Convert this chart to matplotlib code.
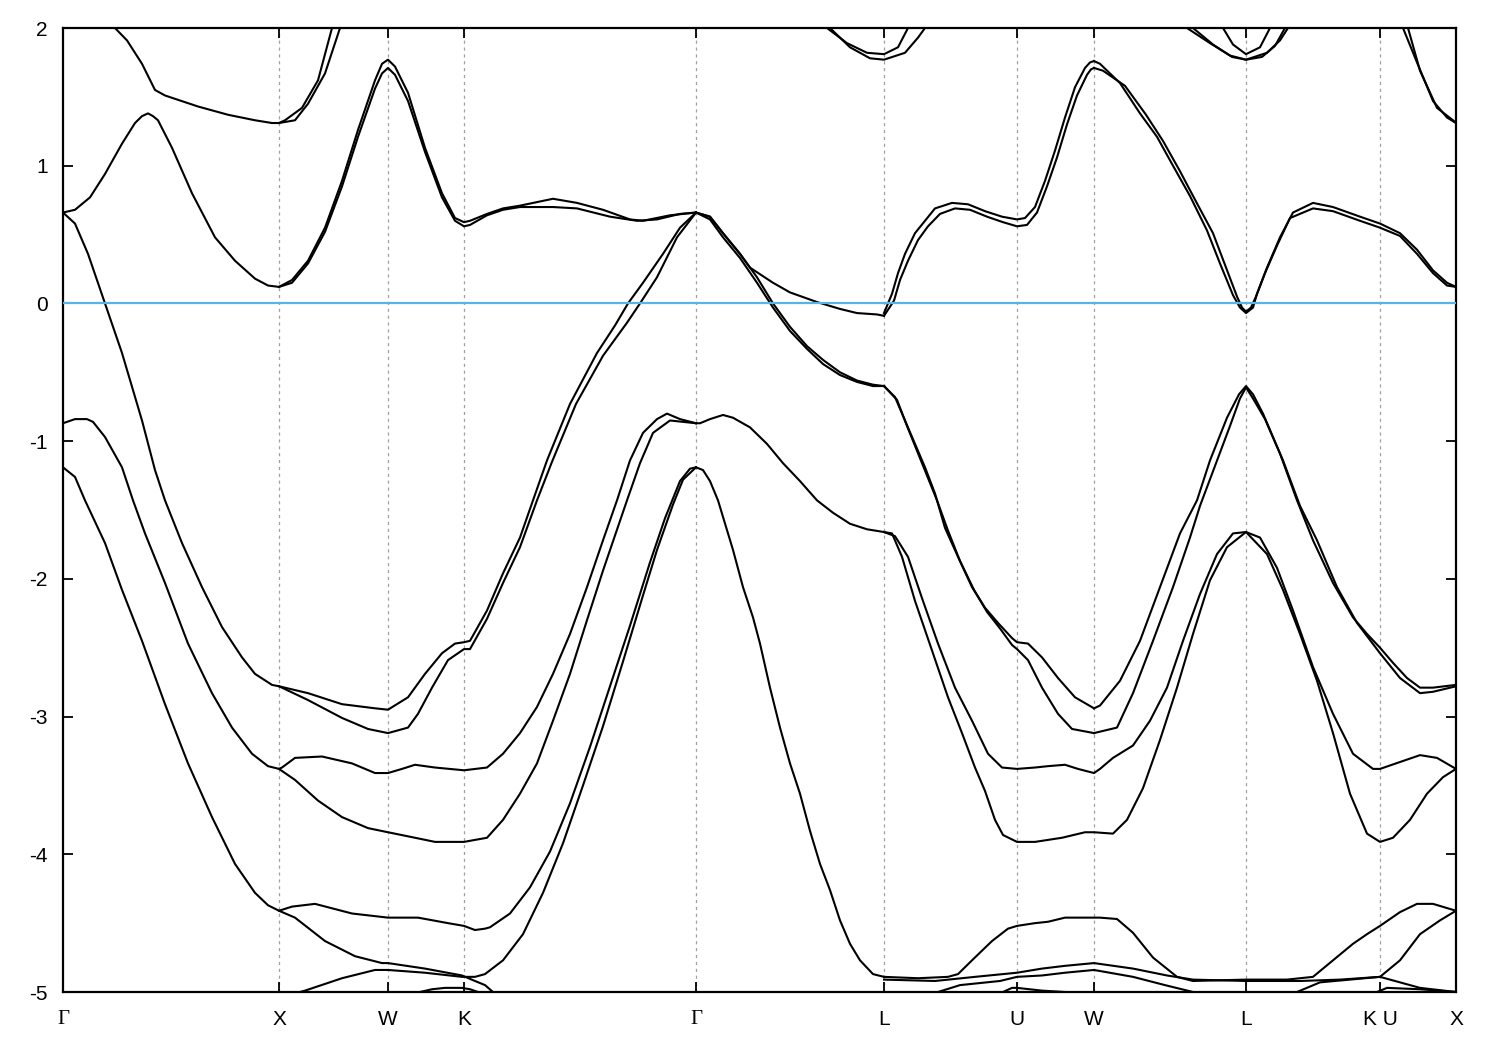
import matplotlib
matplotlib.use('Agg')
import matplotlib.pyplot as plt

plt.rcParams['font.family'] = ['Liberation Sans', 'DejaVu Sans']
plt.rcParams['axes.unicode_minus'] = False

###############################################################################
## High symmetry points along the k-path                                     ##
###############################################################################
sym_k = [0.00, 2.16, 3.25, 4.01, 6.33, 8.21, 9.54, 10.31, 11.83, 13.17, 13.93]
sym_labels = ['Γ', 'X', 'W', 'K', 'Γ', 'L', 'U', 'W', 'L', 'K U', 'X']
e_ticks = [2, 1, 0, -1, -2, -3, -4, -5]

###############################################################################
## Bands (k, E in eV)                                   ##
###############################################################################
# conduction bands near the top edge
top_gx_k = [0.49, 0.52, 0.64, 0.79, 0.92, 1.02, 1.35, 1.65, 1.92, 2.09, 2.16, 2.22, 2.39, 2.55, 2.69, 2.72]
top_gx_e = [2.05, 2.00, 1.91, 1.74, 1.55, 1.51, 1.43, 1.37, 1.33, 1.31, 1.31, 1.33, 1.42, 1.62, 2.00, 2.08]
top_xw_k = [2.16, 2.32, 2.45, 2.62, 2.77, 2.80]
top_xw_e = [1.31, 1.33, 1.45, 1.67, 2.00, 2.08]
top_l1_k = [7.64, 7.84, 8.04, 8.21, 8.35, 8.45]
top_l1_e = [2.00, 1.89, 1.82, 1.81, 1.86, 2.00]
top_l2_k = [7.67, 7.87, 8.07, 8.21, 8.42, 8.55, 8.62]
top_l2_e = [2.00, 1.86, 1.78, 1.77, 1.82, 1.93, 2.00]
top_l3_k = [11.24, 11.47, 11.67, 11.83, 12.04, 12.17, 12.25]
top_l3_e = [2.00, 1.89, 1.80, 1.77, 1.82, 1.91, 2.00]
top_l4_k = [11.30, 11.50, 11.69, 11.83, 11.99, 12.12, 12.22]
top_l4_e = [2.00, 1.88, 1.79, 1.77, 1.79, 1.87, 2.00]
top_l5_k = [11.60, 11.70, 11.83, 11.97, 12.07]
top_l5_e = [2.00, 1.88, 1.81, 1.86, 2.00]
top_x1_k = [13.40, 13.54, 13.70, 13.84, 13.93]
top_x1_e = [2.00, 1.75, 1.47, 1.35, 1.31]
top_x2_k = [13.45, 13.57, 13.74, 13.90, 13.93]
top_x2_e = [2.00, 1.69, 1.42, 1.33, 1.31]

# band through 0.66 at Gamma, peak at W
cb1_k = [0.00, 0.12, 0.27, 0.42, 0.59, 0.72, 0.79, 0.85, 0.90, 0.95, 1.09, 1.29, 1.52, 1.72, 1.92, 2.05, 2.16,
         2.29, 2.45, 2.62, 2.79, 2.95, 3.12, 3.19, 3.25, 3.32, 3.45, 3.62, 3.79, 3.92, 4.01,
         4.07, 4.24, 4.40, 4.57, 4.90, 5.14, 5.40, 5.67, 5.80, 6.07, 6.33]
cb1_e = [0.66, 0.68, 0.77, 0.94, 1.16, 1.31, 1.36, 1.38, 1.36, 1.33, 1.13, 0.80, 0.48, 0.31, 0.18, 0.13, 0.12,
         0.17, 0.31, 0.55, 0.89, 1.26, 1.62, 1.74, 1.77, 1.72, 1.53, 1.13, 0.80, 0.62, 0.59,
         0.60, 0.65, 0.69, 0.71, 0.76, 0.73, 0.68, 0.61, 0.60, 0.64, 0.66]
cb2_k = [2.16, 2.29, 2.45, 2.62, 2.79, 2.95, 3.12, 3.19, 3.25, 3.32, 3.45, 3.62, 3.79, 3.92, 4.01,
         4.07, 4.24, 4.40, 4.57, 4.90, 5.14, 5.47, 5.74, 5.94, 6.17, 6.33]
cb2_e = [0.12, 0.15, 0.29, 0.52, 0.85, 1.21, 1.56, 1.67, 1.71, 1.66, 1.47, 1.10, 0.77, 0.60, 0.56,
         0.57, 0.64, 0.68, 0.70, 0.70, 0.69, 0.63, 0.60, 0.61, 0.65, 0.66]

# Gamma -> L band ending just below E_F, then the pair through U, W, L, K
cb_gl_k = [6.33, 6.47, 6.60, 6.77, 6.87, 7.10, 7.27, 7.54, 7.77, 7.94, 8.14, 8.21]
cb_gl_e = [0.66, 0.63, 0.51, 0.36, 0.26, 0.15, 0.08, 0.01, -0.04, -0.07, -0.08, -0.09]
cb_luw1_k = [8.21, 8.29, 8.35, 8.42, 8.52, 8.62, 8.72, 8.89, 9.05, 9.22, 9.39, 9.54,
             9.62, 9.72, 9.82, 9.92, 10.02, 10.12, 10.22, 10.27, 10.31]
cb_luw1_e = [-0.07, 0.07, 0.22, 0.36, 0.51, 0.60, 0.69, 0.73, 0.72, 0.67, 0.63, 0.61,
             0.62, 0.70, 0.89, 1.11, 1.35, 1.57, 1.71, 1.75, 1.76]
cb_luw2_k = [8.21, 8.31, 8.37, 8.45, 8.55, 8.65, 8.77, 8.92, 9.07, 9.24, 9.40, 9.54,
             9.64, 9.74, 9.84, 9.94, 10.04, 10.14, 10.24, 10.28, 10.31]
cb_luw2_e = [-0.09, 0.02, 0.17, 0.31, 0.46, 0.56, 0.65, 0.69, 0.68, 0.63, 0.59, 0.56,
             0.57, 0.66, 0.85, 1.06, 1.30, 1.51, 1.66, 1.70, 1.71]
cb_wlx1_k = [10.31, 10.37, 10.57, 10.77, 10.94, 11.10, 11.27, 11.44, 11.57, 11.70, 11.77, 11.83,
             11.90, 11.94, 12.04, 12.17, 12.30, 12.50, 12.70, 12.97, 13.17, 13.37, 13.54, 13.70, 13.84, 13.93]
cb_wlx1_e = [1.76, 1.74, 1.60, 1.38, 1.21, 1.00, 0.78, 0.53, 0.29, 0.06, -0.03, -0.07,
             -0.03, 0.07, 0.26, 0.48, 0.66, 0.73, 0.70, 0.63, 0.58, 0.51, 0.39, 0.24, 0.15, 0.12]
cb_wlx2_k = [10.31, 10.40, 10.62, 10.83, 11.00, 11.17, 11.33, 11.50, 11.62, 11.74, 11.79, 11.83,
             11.88, 11.93, 12.02, 12.14, 12.27, 12.50, 12.70, 12.97, 13.17, 13.37, 13.54, 13.70, 13.84, 13.93]
cb_wlx2_e = [1.71, 1.69, 1.58, 1.37, 1.18, 0.96, 0.74, 0.51, 0.28, 0.05, -0.03, -0.06,
             -0.03, 0.05, 0.22, 0.42, 0.62, 0.69, 0.67, 0.60, 0.55, 0.49, 0.36, 0.22, 0.13, 0.12]

# band crossing E_F between Gamma and X, back up to 0.66 at Gamma
vb1_k = [0.00, 0.12, 0.25, 0.42, 0.59, 0.79, 0.92, 1.02, 1.19, 1.39, 1.59, 1.79, 1.92, 2.09, 2.16,
         2.45, 2.79, 3.12, 3.25, 3.45, 3.62, 3.79, 3.92, 4.01,
         4.07, 4.24, 4.40, 4.57, 4.70, 4.84, 5.07, 5.34, 5.52, 5.65, 5.80, 6.00, 6.17, 6.33]
vb1_e = [0.66, 0.58, 0.36, 0.00, -0.36, -0.85, -1.21, -1.43, -1.74, -2.06, -2.35, -2.57, -2.69, -2.77, -2.78,
         -2.83, -2.91, -2.94, -2.95, -2.86, -2.69, -2.54, -2.47, -2.46,
         -2.45, -2.23, -1.96, -1.70, -1.43, -1.14, -0.73, -0.36, -0.16, 0.00, 0.15, 0.36, 0.55, 0.66]
vb2_k = [2.16, 2.45, 2.79, 3.05, 3.25, 3.45, 3.55, 3.69, 3.85, 4.01,
         4.07, 4.24, 4.40, 4.57, 4.74, 4.89, 5.13, 5.40, 5.64, 5.77, 5.94, 6.14, 6.33]
vb2_e = [-2.78, -2.88, -3.01, -3.09, -3.12, -3.08, -2.98, -2.79, -2.59, -2.51,
         -2.51, -2.29, -2.03, -1.77, -1.43, -1.15, -0.73, -0.38, -0.14, 0.00, 0.19, 0.48, 0.66]

# pair Gamma -> L (-0.6) -> U -> W -> L -> K -> X
vb_gl1_k = [6.33, 6.47, 6.60, 6.77, 6.94, 7.10, 7.27, 7.44, 7.60, 7.77, 7.94, 8.10, 8.21]
vb_gl1_e = [0.66, 0.63, 0.51, 0.36, 0.19, 0.00, -0.17, -0.31, -0.41, -0.50, -0.56, -0.59, -0.60]
vb_gl2_k = [6.33, 6.47, 6.60, 6.77, 6.94, 7.10, 7.27, 7.44, 7.60, 7.77, 7.94, 8.10, 8.21]
vb_gl2_e = [0.66, 0.61, 0.48, 0.33, 0.15, -0.03, -0.20, -0.33, -0.44, -0.52, -0.57, -0.60, -0.60]
vb_luw1_k = [8.21, 8.32, 8.42, 8.52, 8.62, 8.72, 8.82, 8.95, 9.09, 9.22, 9.35, 9.49, 9.54,
             9.65, 9.79, 9.95, 10.12, 10.31]
vb_luw1_e = [-0.60, -0.68, -0.85, -1.02, -1.19, -1.38, -1.63, -1.84, -2.06, -2.21, -2.32, -2.43, -2.46,
             -2.47, -2.57, -2.72, -2.86, -2.94]
vb_luw2_k = [8.21, 8.34, 8.44, 8.54, 8.64, 8.74, 8.85, 8.97, 9.11, 9.24, 9.37, 9.49, 9.54,
             9.65, 9.79, 9.95, 10.09, 10.31]
vb_luw2_e = [-0.60, -0.70, -0.89, -1.07, -1.25, -1.43, -1.65, -1.87, -2.08, -2.24, -2.36, -2.48, -2.51,
             -2.59, -2.79, -2.98, -3.09, -3.12]
vb_wlx1_k = [10.31, 10.37, 10.57, 10.77, 10.97, 11.17, 11.34, 11.47, 11.64, 11.76, 11.83,
             11.90, 12.00, 12.17, 12.34, 12.50, 12.70, 12.90, 13.04, 13.17, 13.30, 13.44, 13.57, 13.70, 13.93]
vb_wlx1_e = [-2.94, -2.92, -2.74, -2.45, -2.06, -1.67, -1.43, -1.14, -0.83, -0.66, -0.60,
             -0.66, -0.80, -1.09, -1.43, -1.72, -2.03, -2.28, -2.40, -2.50, -2.61, -2.72, -2.79, -2.79, -2.77]
vb_wlx2_k = [10.31, 10.54, 10.70, 10.90, 11.10, 11.27, 11.37, 11.52, 11.67, 11.77, 11.83,
             11.90, 12.02, 12.20, 12.37, 12.54, 12.74, 12.94, 13.17, 13.37, 13.57, 13.70, 13.93]
vb_wlx2_e = [-3.12, -3.08, -2.83, -2.45, -2.06, -1.70, -1.47, -1.18, -0.89, -0.69, -0.61,
             -0.69, -0.84, -1.14, -1.47, -1.72, -2.06, -2.32, -2.54, -2.72, -2.83, -2.82, -2.78]

# band from -0.87 at Gamma
vb3_k = [0.00, 0.12, 0.24, 0.30, 0.42, 0.59, 0.70, 0.82, 1.02, 1.25, 1.49, 1.69, 1.89, 2.05, 2.16,
         2.19, 2.32, 2.59, 2.89, 3.12, 3.25, 3.39, 3.52, 3.72, 4.01,
         4.24, 4.40, 4.57, 4.74, 4.90, 5.07, 5.24, 5.40, 5.54, 5.67, 5.80, 5.94, 6.04, 6.17, 6.33]
vb3_e = [-0.87, -0.84, -0.84, -0.86, -0.97, -1.19, -1.43, -1.67, -2.03, -2.47, -2.83, -3.08, -3.27, -3.36, -3.38,
         -3.37, -3.30, -3.29, -3.34, -3.41, -3.41, -3.38, -3.35, -3.37, -3.39,
         -3.37, -3.27, -3.12, -2.93, -2.69, -2.40, -2.06, -1.72, -1.43, -1.14, -0.94, -0.84, -0.80, -0.84, -0.87]
vb4_k = [2.16, 2.32, 2.55, 2.79, 3.05, 3.25, 3.52, 3.72, 4.01,
         4.24, 4.40, 4.57, 4.74, 4.90, 5.07, 5.24, 5.40, 5.64, 5.77, 5.90, 6.07, 6.33]
vb4_e = [-3.38, -3.46, -3.61, -3.73, -3.81, -3.84, -3.88, -3.91, -3.91,
         -3.88, -3.75, -3.56, -3.34, -3.03, -2.69, -2.30, -1.94, -1.43, -1.16, -0.94, -0.85, -0.87]
vb3_gl_k = [6.33, 6.37, 6.47, 6.60, 6.70, 6.87, 7.04, 7.20, 7.37, 7.54, 7.70, 7.87, 8.04, 8.21]
vb3_gl_e = [-0.87, -0.87, -0.84, -0.81, -0.83, -0.90, -1.02, -1.16, -1.29, -1.43, -1.52, -1.60, -1.64, -1.66]
vb3_lx_k = [8.21, 8.32, 8.45, 8.59, 8.75, 8.92, 9.09, 9.25, 9.39, 9.54, 9.72, 9.85, 10.02, 10.15, 10.31,
            10.37, 10.50, 10.70, 10.87, 11.04, 11.20, 11.37, 11.54, 11.70, 11.83,
            11.97, 12.14, 12.30, 12.50, 12.70, 12.90, 13.10, 13.17, 13.37, 13.57, 13.74, 13.93]
vb3_lx_e = [-1.66, -1.69, -1.84, -2.14, -2.47, -2.79, -3.03, -3.27, -3.37, -3.38, -3.37, -3.36, -3.35, -3.38, -3.41,
            -3.38, -3.30, -3.21, -3.03, -2.79, -2.45, -2.11, -1.82, -1.67, -1.66,
            -1.70, -1.92, -2.23, -2.64, -2.98, -3.27, -3.38, -3.38, -3.33, -3.28, -3.30, -3.38]
vb4_lx_k = [8.21, 8.29, 8.39, 8.52, 8.69, 8.85, 8.99, 9.12, 9.22, 9.32, 9.40, 9.54, 9.72, 9.99, 10.22, 10.31,
            10.50, 10.64, 10.80, 10.97, 11.14, 11.30, 11.47, 11.64, 11.83,
            12.04, 12.20, 12.37, 12.54, 12.70, 12.87, 13.04, 13.17, 13.30, 13.47, 13.64, 13.80, 13.93]
vb4_lx_e = [-1.66, -1.67, -1.84, -2.16, -2.52, -2.86, -3.12, -3.37, -3.54, -3.75, -3.86, -3.91, -3.91, -3.88, -3.84, -3.84,
            -3.85, -3.75, -3.52, -3.17, -2.79, -2.40, -2.01, -1.77, -1.66,
            -1.82, -2.08, -2.40, -2.74, -3.12, -3.56, -3.85, -3.91, -3.88, -3.75, -3.56, -3.44, -3.38]

# band from -1.19 at Gamma
vb5_k = [0.00, 0.12, 0.22, 0.42, 0.59, 0.79, 1.02, 1.25, 1.49, 1.72, 1.92, 2.05, 2.16,
         2.29, 2.52, 2.89, 3.25, 3.55, 3.85, 4.01, 4.12, 4.22, 4.27,
         4.47, 4.67, 4.87, 5.07, 5.27, 5.47, 5.67, 5.87, 6.02, 6.17, 6.27, 6.33]
vb5_e = [-1.19, -1.26, -1.43, -1.74, -2.08, -2.45, -2.91, -3.34, -3.73, -4.07, -4.28, -4.37, -4.41,
         -4.38, -4.36, -4.43, -4.46, -4.46, -4.50, -4.52, -4.55, -4.54, -4.53,
         -4.43, -4.24, -3.98, -3.63, -3.22, -2.78, -2.34, -1.88, -1.56, -1.29, -1.20, -1.19]
vb6_k = [2.16, 2.32, 2.62, 2.92, 3.19, 3.25, 3.62, 3.99, 4.12, 4.22, 4.30]
vb6_e = [-4.41, -4.46, -4.63, -4.74, -4.79, -4.79, -4.83, -4.88, -4.92, -4.95, -5.00]
vb7_k = [2.37, 2.42, 2.79, 3.12, 3.25, 3.62, 3.99, 4.12, 4.22, 4.40, 4.60, 4.80, 5.00, 5.20, 5.40,
         5.60, 5.80, 5.94, 6.10, 6.20, 6.33]
vb7_e = [-5.00, -4.99, -4.90, -4.84, -4.84, -4.86, -4.89, -4.89, -4.87, -4.77, -4.58, -4.28, -3.92, -3.50, -3.07,
         -2.60, -2.12, -1.79, -1.46, -1.28, -1.19]
vb5_gl_k = [6.33, 6.40, 6.47, 6.55, 6.60, 6.70, 6.80, 6.90, 6.97, 7.07, 7.17, 7.27, 7.37, 7.47,
            7.57, 7.67, 7.77, 7.87, 7.97, 8.10, 8.21]
vb5_gl_e = [-1.19, -1.21, -1.29, -1.43, -1.55, -1.79, -2.06, -2.28, -2.47, -2.79, -3.08, -3.34, -3.56, -3.83,
            -4.07, -4.26, -4.48, -4.65, -4.77, -4.87, -4.89]

# bands close to the bottom edge
vb5_lx_k = [8.21, 8.55, 8.85, 8.95, 9.09, 9.29, 9.45, 9.54, 9.72, 9.85, 10.02, 10.31, 10.37, 10.54, 10.70,
            10.90, 11.14, 11.30, 11.83, 12.24, 12.50, 12.70, 12.90, 13.04, 13.17, 13.37, 13.54, 13.70, 13.93]
vb5_lx_e = [-4.89, -4.90, -4.89, -4.87, -4.77, -4.63, -4.54, -4.52, -4.50, -4.49, -4.46, -4.46, -4.46, -4.47, -4.57,
            -4.75, -4.89, -4.92, -4.91, -4.91, -4.89, -4.77, -4.65, -4.58, -4.52, -4.42, -4.36, -4.36, -4.41]
vb8_k = [8.21, 8.72, 9.12, 9.54, 9.79, 10.02, 10.31, 10.70, 11.04, 11.30, 11.83, 12.37, 12.77, 13.17,
         13.37, 13.57, 13.77, 13.93]
vb8_e = [-4.91, -4.92, -4.89, -4.86, -4.83, -4.81, -4.79, -4.83, -4.88, -4.91, -4.92, -4.92, -4.91, -4.89,
         -4.77, -4.58, -4.48, -4.41]
vb9_k = [8.75, 8.97, 9.37, 9.54, 9.79, 10.02, 10.31, 10.70, 11.02, 11.30]
vb9_e = [-5.00, -4.95, -4.92, -4.89, -4.88, -4.86, -4.84, -4.89, -4.95, -5.00]
low_k_k = [3.57, 3.69, 3.82, 3.99, 4.07, 4.15]
low_k_e = [-5.00, -4.98, -4.97, -4.97, -4.98, -5.00]
low_u_k = [9.40, 9.49, 9.54, 9.79, 10.02]
low_u_e = [-5.00, -4.97, -4.97, -4.99, -5.00]
low_kx1_k = [12.34, 12.57, 13.17, 13.37, 13.57, 13.93]
low_kx1_e = [-5.00, -4.93, -4.89, -4.93, -4.97, -5.00]
low_kx2_k = [13.14, 13.24, 13.57, 13.93]
low_kx2_e = [-5.00, -4.97, -4.98, -5.00]

curves = [
    (top_gx_k, top_gx_e), (top_xw_k, top_xw_e), (top_l1_k, top_l1_e), (top_l2_k, top_l2_e),
    (top_l3_k, top_l3_e), (top_l4_k, top_l4_e), (top_l5_k, top_l5_e),
    (top_x1_k, top_x1_e), (top_x2_k, top_x2_e),
    (cb1_k, cb1_e), (cb2_k, cb2_e), (cb_gl_k, cb_gl_e),
    (cb_luw1_k, cb_luw1_e), (cb_luw2_k, cb_luw2_e), (cb_wlx1_k, cb_wlx1_e), (cb_wlx2_k, cb_wlx2_e),
    (vb1_k, vb1_e), (vb2_k, vb2_e),
    (vb_gl1_k, vb_gl1_e), (vb_gl2_k, vb_gl2_e), (vb_luw1_k, vb_luw1_e), (vb_luw2_k, vb_luw2_e),
    (vb_wlx1_k, vb_wlx1_e), (vb_wlx2_k, vb_wlx2_e),
    (vb3_k, vb3_e), (vb4_k, vb4_e), (vb3_gl_k, vb3_gl_e), (vb3_lx_k, vb3_lx_e), (vb4_lx_k, vb4_lx_e),
    (vb5_k, vb5_e), (vb6_k, vb6_e), (vb7_k, vb7_e), (vb5_gl_k, vb5_gl_e), (vb5_lx_k, vb5_lx_e),
    (vb8_k, vb8_e), (vb9_k, vb9_e),
    (low_k_k, low_k_e), (low_u_k, low_u_e), (low_kx1_k, low_kx1_e), (low_kx2_k, low_kx2_e),
]

###############################################################################
## Plot                                                                      ##
###############################################################################
fig = plt.figure(figsize=(15, 10.5), dpi=100)
ax = fig.add_axes([63 / 1500, 1 - 992 / 1050, (1456 - 63) / 1500, (992 - 28) / 1050])

for x in sym_k[1:-1]:
    ax.axvline(x, color='#a0a0a0', lw=0.9, ls=(0, (2.5, 3)), zorder=1)

for k, e in curves:
    ax.plot(k, e, color='black', lw=1.5, zorder=2, solid_joinstyle='round')

ax.axhline(0, color='#56b4e9', lw=1.6, zorder=3)

ax.set_xlim(sym_k[0], sym_k[-1])
ax.set_ylim(-5, 2)
ax.set_xticks(sym_k)
ax.set_xticklabels(sym_labels)
for lab in ax.get_xticklabels():
    if lab.get_text() == 'Γ':
        lab.set_fontfamily(['Liberation Serif', 'DejaVu Serif'])
        lab.set_fontsize(17)
ax.set_yticks(e_ticks)
ax.set_yticklabels([str(t) for t in e_ticks])

ax.tick_params(direction='in', length=7, width=1.3, top=True, right=True, labelsize=15)
ax.tick_params(axis='x', pad=13)
ax.tick_params(axis='y', pad=11)
for s in ax.spines.values():
    s.set_linewidth(1.6)

fig.savefig('out.png', dpi=100)
